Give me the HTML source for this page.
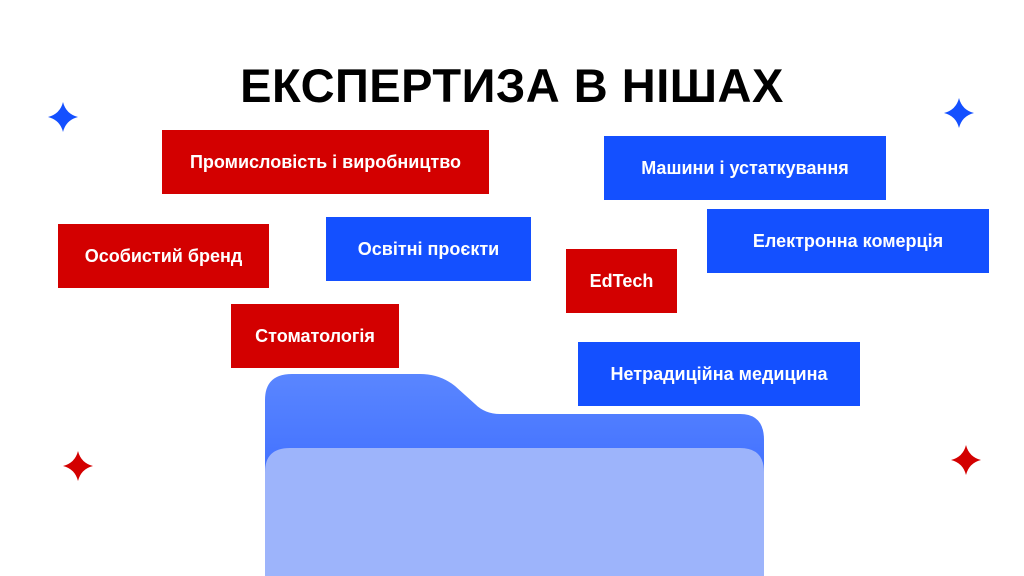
<!DOCTYPE html>
<html><head><meta charset="utf-8"><style>
body{margin:0;width:1024px;height:576px;background:#fff;position:relative;overflow:hidden;font-family:"Liberation Sans","DejaVu Sans",sans-serif}
.t{position:absolute;left:0;width:1024px;top:58px;text-align:center;font-size:47px;font-weight:bold;color:#000;letter-spacing:0.5px}
.b{position:absolute;display:flex;align-items:center;justify-content:center;color:#fff;font-weight:bold;font-size:18px;white-space:nowrap}
.r{background:#d30000}.u{background:#1450ff}
svg{position:absolute;left:0;top:0}
</style></head><body>
<svg width="1024" height="576">
<defs><linearGradient id="g" x1="0" y1="0" x2="0" y2="1"><stop offset="0" stop-color="#5a86ff"/><stop offset="1" stop-color="#2a5cff"/></linearGradient></defs>
<path d="M265 576 V400 Q265 374 292 374 H420 Q440 374 455 386 L475 404 Q485 414 500 414 H740 Q764 414 764 440 V576 Z" fill="url(#g)"/>
<path d="M265 576 V472 Q265 448 290 448 H740 Q764 448 764 472 V576 Z" fill="#9db4fb"/>
<g fill="#1450ff"><path d="M63 102 Q66 114 78 117 Q66 120 63 132 Q60 120 48 117 Q60 114 63 102Z"/><path d="M959 98 Q962 110 974 113 Q962 116 959 128 Q956 116 944 113 Q956 110 959 98Z"/></g>
<g fill="#d30000"><path d="M78 451 Q81 463 93 466 Q81 469 78 481 Q75 469 63 466 Q75 463 78 451Z"/><path d="M966 445 Q969 457 981 460 Q969 463 966 475 Q963 463 951 460 Q963 457 966 445Z"/></g>
</svg>
<div class="t">ЕКСПЕРТИЗА В НІШАХ</div>
<div class="b r" style="left:162px;top:130px;width:327px;height:64px">Промисловість і виробництво</div>
<div class="b u" style="left:604px;top:136px;width:282px;height:64px">Машини і устаткування</div>
<div class="b r" style="left:58px;top:224px;width:211px;height:64px">Особистий бренд</div>
<div class="b u" style="left:326px;top:217px;width:205px;height:64px">Освітні проєкти</div>
<div class="b r" style="left:566px;top:249px;width:111px;height:64px">EdTech</div>
<div class="b u" style="left:707px;top:209px;width:282px;height:64px">Електронна комерція</div>
<div class="b r" style="left:231px;top:304px;width:168px;height:64px">Стоматологія</div>
<div class="b u" style="left:578px;top:342px;width:282px;height:64px">Нетрадиційна медицина</div>
</body></html>
